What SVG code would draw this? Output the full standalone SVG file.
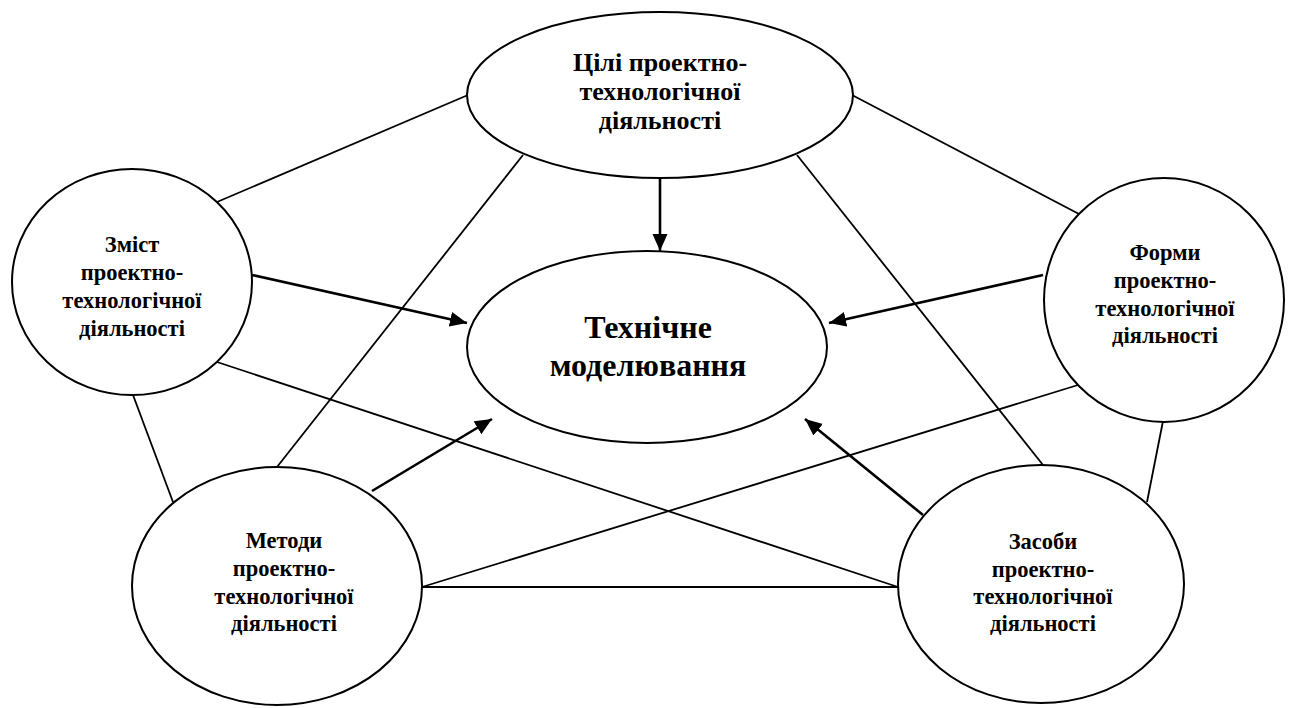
<svg xmlns="http://www.w3.org/2000/svg" width="1293" height="708" viewBox="0 0 1293 708">
<style>
.node{fill:#fff;stroke:#000;stroke-width:2}
.ln{stroke:#000;stroke-width:1.8;fill:none}
.ar{stroke:#000;stroke-width:2.6;fill:none;marker-end:url(#ah)}
.s{font-size:22.5px}
.t{font-size:26px}
.c{font-size:32px}
</style>
<defs>
<marker id="ah" markerUnits="userSpaceOnUse" markerWidth="20" markerHeight="16" refX="17" refY="7.5" orient="auto">
<path d="M0,0 L17,7.5 L0,15 Z" fill="#000"/>
</marker>
</defs>
<rect width="1293" height="708" fill="#fff"/>
<g id="connectors">
<line class="ln" x1="217" y1="202" x2="468" y2="95"/>
<line class="ln" x1="852" y1="95" x2="1079" y2="214"/>
<line class="ln" x1="523" y1="155" x2="277" y2="467"/>
<line class="ln" x1="797" y1="155" x2="1043" y2="465"/>
<line class="ln" x1="217" y1="362" x2="898" y2="587"/>
<line class="ln" x1="1078" y1="385" x2="422" y2="587"/>
<line class="ln" x1="422" y1="587" x2="898" y2="587"/>
<line class="ln" x1="133" y1="395" x2="173" y2="502"/>
<line class="ln" x1="1163" y1="421" x2="1147" y2="502"/>
<line class="ar" x1="660" y1="178" x2="660" y2="251"/>
<line class="ar" x1="252" y1="275" x2="467" y2="323"/>
<line class="ar" x1="1043" y1="275" x2="829" y2="323"/>
<line class="ar" x1="372" y1="491" x2="492" y2="419"/>
<line class="ar" x1="923" y1="515" x2="805" y2="419"/>
</g>
<g font-family="'Liberation Serif', 'Times New Roman', serif" font-weight="bold" text-anchor="middle" fill="#000">
<g id="tsili">
<ellipse class="node" cx="660" cy="95" rx="193" ry="83"/>
<text class="t" x="660" y="71">Цілі проектно-</text>
<text class="t" x="660" y="100">технологічної</text>
<text class="t" x="660" y="129">діяльності</text>
</g>
<g id="zmist">
<ellipse class="node" cx="132" cy="282" rx="120" ry="113"/>
<text class="s" x="132" y="252">Зміст</text>
<text class="s" x="132" y="280">проектно-</text>
<text class="s" x="132" y="308">технологічної</text>
<text class="s" x="132" y="336">діяльності</text>
</g>
<g id="formy">
<ellipse class="node" cx="1164" cy="300" rx="120" ry="122"/>
<text class="s" x="1165" y="260">Форми</text>
<text class="s" x="1165" y="288">проектно-</text>
<text class="s" x="1165" y="316">технологічної</text>
<text class="s" x="1165" y="343">діяльності</text>
</g>
<g id="metody">
<ellipse class="node" cx="277" cy="586" rx="145" ry="119"/>
<text class="s" x="284" y="548">Методи</text>
<text class="s" x="284" y="576">проектно-</text>
<text class="s" x="284" y="604">технологічної</text>
<text class="s" x="284" y="631">діяльності</text>
</g>
<g id="zasoby">
<ellipse class="node" cx="1041" cy="584" rx="143" ry="119"/>
<text class="s" x="1043" y="549">Засоби</text>
<text class="s" x="1043" y="577">проектно-</text>
<text class="s" x="1043" y="604">технологічної</text>
<text class="s" x="1043" y="631">діяльності</text>
</g>
<g id="center">
<ellipse class="node" cx="647" cy="347" rx="180" ry="96"/>
<text class="c" x="648" y="338">Технічне</text>
<text class="c" x="648" y="376">моделювання</text>
</g>
</g>
</svg>
